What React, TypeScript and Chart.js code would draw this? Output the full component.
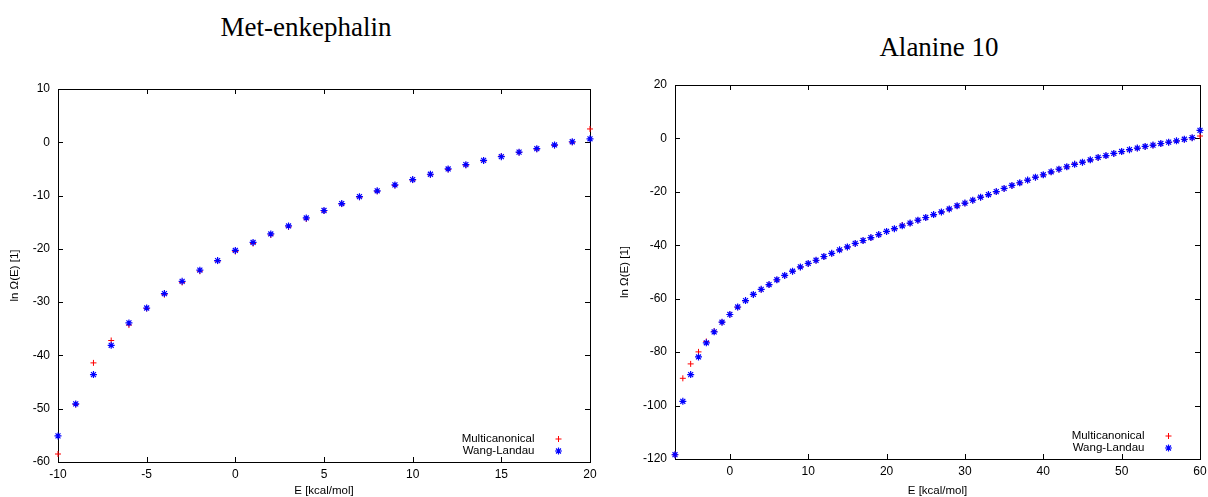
import React, { useEffect, useRef } from 'react';
import { Chart, registerables } from 'chart.js';

Chart.register(...registerables);

// ---------- Met-enkephalin ----------
const metE = [-10, -9, -8, -7, -6, -5, -4, -3, -2, -1, 0, 1, 2, 3, 4, 5, 6, 7, 8, 9, 10, 11, 12, 13, 14, 15, 16, 17, 18, 19, 20];
const metMuca = [-58.5, -49.2, -41.4, -37.2, -34.3, -31.2, -28.6, -26.3, -24.2, -22.3, -20.5, -19.0, -17.4, -15.9, -14.4, -12.9, -11.6, -10.3, -9.2, -8.1, -7.1, -6.1, -5.1, -4.3, -3.5, -2.6, -1.9, -1.3, -0.6, 0.0, 2.5];
const metWL = [-55.1, -49.1, -43.6, -38.1, -33.9, -31.1, -28.4, -26.1, -24.0, -22.2, -20.3, -18.8, -17.2, -15.7, -14.2, -12.8, -11.5, -10.2, -9.1, -8.0, -7.0, -6.0, -5.0, -4.2, -3.4, -2.7, -1.85, -1.2, -0.5, 0.1, 0.65];
const metXTicks = [-10, -5, 0, 5, 10, 15, 20];
const metYTicks = [-60, -50, -40, -30, -20, -10, 0, 10];

// ---------- Alanine 10 ----------
const alaE = [-7, -6, -5, -4, -3, -2, -1, 0, 1, 2, 3, 4, 5, 6, 7, 8, 9, 10, 11, 12, 13, 14, 15, 16, 17, 18, 19, 20, 21, 22, 23, 24, 25, 26, 27, 28, 29, 30, 31, 32, 33, 34, 35, 36, 37, 38, 39, 40, 41, 42, 43, 44, 45, 46, 47, 48, 49, 50, 51, 52, 53, 54, 55, 56, 57, 58, 59, 60];
const alaMuca = [-118.4, -89.8, -84.4, -79.9, -76.0, -72.2, -68.8, -65.9, -63.2, -60.8, -58.5, -56.6, -54.8, -53.0, -51.4, -49.8, -48.2, -46.9, -45.7, -44.3, -43.1, -41.8, -40.7, -39.4, -38.3, -37.2, -36.1, -34.9, -33.9, -32.4, -31.8, -30.7, -29.7, -28.6, -27.6, -26.5, -25.3, -24.3, -23.2, -22.1, -21.1, -20.0, -18.8, -17.7, -16.7, -15.7, -14.6, -13.7, -12.6, -11.6, -10.7, -9.5, -9.0, -8.1, -7.2, -6.5, -5.7, -5.0, -4.3, -3.7, -3.1, -2.6, -2.0, -1.5, -1.0, -0.4, 0.2, 0.9];
const alaWL = [-118.4, -98.4, -88.4, -81.8, -76.5, -72.4, -68.8, -65.9, -63.1, -60.7, -58.4, -56.5, -54.7, -52.9, -51.3, -49.7, -48.1, -46.8, -45.6, -44.2, -43.0, -41.7, -40.6, -39.3, -38.2, -37.1, -36.0, -34.8, -33.8, -32.7, -31.7, -30.6, -29.6, -28.5, -27.5, -26.4, -25.2, -24.2, -23.1, -22.0, -21.0, -19.9, -18.7, -17.6, -16.6, -15.6, -14.5, -13.6, -12.5, -11.5, -10.6, -9.7, -8.9, -8.0, -7.1, -6.4, -5.6, -4.9, -4.2, -3.6, -3.0, -2.5, -1.9, -1.4, -0.9, -0.3, 0.3, 3.0];
const alaXTicks = [0, 10, 20, 30, 40, 50, 60];
const alaYTicks = [-120, -100, -80, -60, -40, -20, 0, 20];

const seriesNames = ['Multicanonical', 'Wang-Landau'];
const xTitle = 'E [kcal/mol]';
const yTitle = 'ln Ω(E) [1]';

const SANS = '"Liberation Sans", Arial, sans-serif';

type PanelSpec = {
  left: number;
  width: number;
  area: { left: number; top: number; right: number; bottom: number };
  xs: number[];
  muca: number[];
  wl: number[];
  xMin: number;
  xMax: number;
  yMin: number;
  yMax: number;
  xTicks: number[];
  yTicks: number[];
  yTitleX: number;
};

const H = 497;

function drawCross(ctx: CanvasRenderingContext2D, x: number, y: number, r: number) {
  ctx.moveTo(x - r, y);
  ctx.lineTo(x + r, y);
  ctx.moveTo(x, y - r);
  ctx.lineTo(x, y + r);
}

function makeFramePlugin() {
  return {
    id: 'gnuFrame',
    beforeDatasetsDraw(chart: any) {
      const { ctx, chartArea: a, scales } = chart;
      const L = 5;
      ctx.save();
      ctx.strokeStyle = '#000';
      ctx.lineWidth = 1;
      ctx.beginPath();
      scales.x.ticks.forEach((t: any) => {
        const px = Math.round(scales.x.getPixelForValue(t.value)) + 0.5;
        ctx.moveTo(px, a.bottom);
        ctx.lineTo(px, a.bottom - L);
        ctx.moveTo(px, a.top);
        ctx.lineTo(px, a.top + L);
      });
      scales.y.ticks.forEach((t: any) => {
        const py = Math.round(scales.y.getPixelForValue(t.value)) + 0.5;
        ctx.moveTo(a.left, py);
        ctx.lineTo(a.left + L, py);
        ctx.moveTo(a.right, py);
        ctx.lineTo(a.right - L, py);
      });
      ctx.stroke();
      ctx.strokeRect(a.left + 0.5, a.top + 0.5, a.right - a.left, a.bottom - a.top);
      ctx.restore();
    },
    afterDatasetsDraw(chart: any) {
      const { ctx, chartArea: a } = chart;
      ctx.save();
      ctx.font = `11.5px ${SANS}`;
      ctx.fillStyle = '#000';
      ctx.textAlign = 'right';
      ctx.textBaseline = 'middle';
      const textX = a.right - 55.5;
      const markX = a.right - 31.5;
      const rows = [a.bottom - 23, a.bottom - 11];
      ctx.fillText(seriesNames[0], textX, rows[0]);
      ctx.fillText(seriesNames[1], textX, rows[1]);
      ctx.lineWidth = 1;
      ctx.strokeStyle = '#ff0000';
      ctx.beginPath();
      drawCross(ctx, markX, rows[0], 3);
      ctx.stroke();
      ctx.strokeStyle = '#0000ff';
      ctx.lineWidth = 1.2;
      ctx.beginPath();
      drawCross(ctx, markX, rows[1], 3.5);
      const d = 3.5 * Math.SQRT1_2;
      ctx.moveTo(markX - d, rows[1] - d);
      ctx.lineTo(markX + d, rows[1] + d);
      ctx.moveTo(markX - d, rows[1] + d);
      ctx.lineTo(markX + d, rows[1] - d);
      ctx.stroke();
      ctx.restore();
    },
  };
}

function Panel({ spec }: { spec: PanelSpec }) {
  const ref = useRef<HTMLCanvasElement>(null);
  useEffect(() => {
    const canvas = ref.current!;
    const a = spec.area;
    const yAxisWidth = a.left;
    const xAxisHeight = H - a.bottom;
    const chart = new Chart(canvas, {
      type: 'scatter',
      data: {
        datasets: [
          {
            label: seriesNames[1],
            data: spec.xs.map((x, i) => ({ x, y: spec.wl[i] })),
            pointStyle: 'star',
            pointRadius: 3.5,
            pointBorderWidth: 1.2,
            borderColor: '#0000ff',
            backgroundColor: '#0000ff',
            showLine: false,
            clip: false,
            order: 0,
          } as any,
          {
            label: seriesNames[0],
            data: spec.xs.map((x, i) => ({ x, y: spec.muca[i] })),
            pointStyle: 'cross',
            pointRadius: 3,
            pointBorderWidth: 1,
            borderColor: '#ff0000',
            backgroundColor: '#ff0000',
            showLine: false,
            clip: false,
            order: 1,
          } as any,
        ],
      },
      options: {
        animation: false,
        responsive: false,
        events: [],
        layout: { padding: { top: a.top, right: spec.width - a.right, bottom: 0, left: 0 } },
        plugins: {
          legend: { display: false },
          tooltip: { enabled: false },
          title: { display: false },
        },
        scales: {
          x: {
            type: 'linear',
            min: spec.xMin,
            max: spec.xMax,
            grid: { display: false, drawTicks: false },
            border: { display: false },
            afterBuildTicks: (s: any) => {
              s.ticks = spec.xTicks.map((v) => ({ value: v }));
            },
            afterFit: (s: any) => {
              s.height = xAxisHeight;
              s.paddingLeft = 0;
              s.paddingRight = 0;
            },
            ticks: {
              color: '#000',
              font: { family: SANS, size: 12 },
              padding: 5,
              maxRotation: 0,
              autoSkip: false,
            },
            title: {
              display: true,
              text: xTitle,
              color: '#000',
              font: { family: SANS, size: 11.5, lineHeight: 1 },
              padding: { top: 0, bottom: 0.5 },
            },
          },
          y: {
            type: 'linear',
            min: spec.yMin,
            max: spec.yMax,
            grid: { display: false, drawTicks: false },
            border: { display: false },
            afterBuildTicks: (s: any) => {
              s.ticks = spec.yTicks.map((v) => ({ value: v }));
            },
            afterFit: (s: any) => {
              s.width = yAxisWidth;
              s.paddingTop = 0;
              s.paddingBottom = 0;
            },
            ticks: {
              color: '#000',
              font: { family: SANS, size: 12 },
              padding: 8,
              autoSkip: false,
            },
            title: {
              display: true,
              text: yTitle,
              color: '#000',
              font: { family: SANS, size: 11.5, lineHeight: 1 },
              padding: { top: spec.yTitleX - 5.75, bottom: 0 },
            },
          },
        },
      },
      plugins: [makeFramePlugin()],
    });
    return () => chart.destroy();
  }, [spec]);
  return (
    <div style={{ position: 'absolute', left: spec.left, top: 0, width: spec.width, height: H }}>
      <canvas ref={ref} width={spec.width} height={H} style={{ width: spec.width, height: H, display: 'block' }} />
    </div>
  );
}

const metSpec: PanelSpec = {
  left: 0,
  width: 600,
  area: { left: 58, top: 89, right: 590, bottom: 462 },
  xs: metE,
  muca: metMuca,
  wl: metWL,
  xMin: -10,
  xMax: 20,
  yMin: -60,
  yMax: 10,
  xTicks: metXTicks,
  yTicks: metYTicks,
  yTitleX: 15,
};

const alaSpec: PanelSpec = {
  left: 600,
  width: 608,
  area: { left: 75, top: 85, right: 600, bottom: 459 },
  xs: alaE,
  muca: alaMuca,
  wl: alaWL,
  xMin: -7,
  xMax: 60,
  yMin: -120,
  yMax: 20,
  xTicks: alaXTicks,
  yTicks: alaYTicks,
  yTitleX: 25,
};

const titleStyle: React.CSSProperties = {
  position: 'absolute',
  width: 300,
  textAlign: 'center',
  fontFamily: '"Liberation Serif", "Times New Roman", serif',
  fontSize: 27,
  lineHeight: '27px',
  color: '#000',
  whiteSpace: 'nowrap',
};

export default function App() {
  return (
    <div style={{ position: 'absolute', left: 0, top: 0, width: 1208, height: H, background: '#fff', overflow: 'hidden' }}>
      <div style={{ ...titleStyle, left: 306 - 150, top: 14 }}>Met-enkephalin</div>
      <div style={{ ...titleStyle, left: 939 - 150, top: 34 }}>Alanine 10</div>
      <Panel spec={metSpec} />
      <Panel spec={alaSpec} />
    </div>
  );
}
